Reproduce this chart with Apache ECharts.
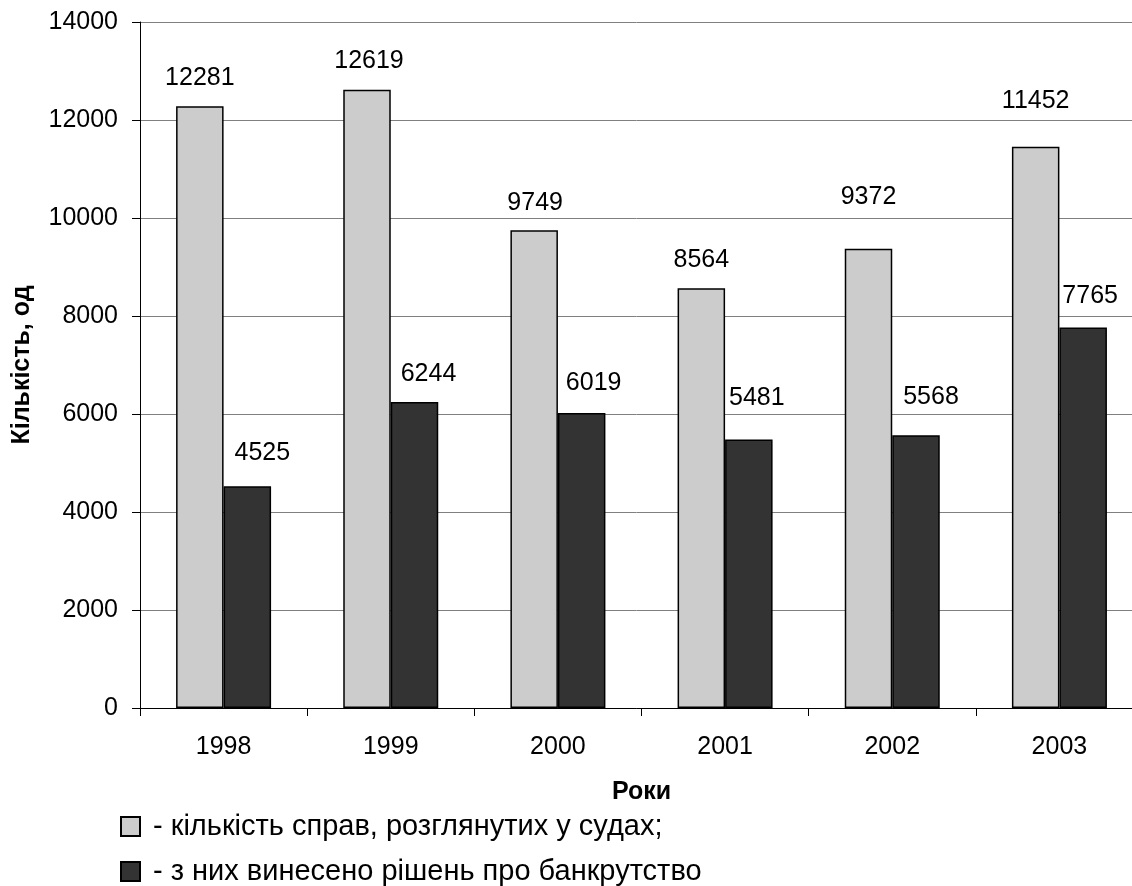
<!DOCTYPE html>
<html>
<head>
<meta charset="utf-8">
<script src="https://cdn.jsdelivr.net/npm/echarts@6/dist/echarts.min.js"></script>
<style>
html,body{margin:0;padding:0;background:#fff;}
#chart{width:1132px;height:886px;}
</style>
</head>
<body>
<div id="chart"></div>
<script>
// Data
const years = ['1998', '1999', '2000', '2001', '2002', '2003'];
const casesConsidered = [12281, 12619, 9749, 8564, 9372, 11452];
const bankruptcyDecisions = [4525, 6244, 6019, 5481, 5568, 7765];
const seriesNames = ['- кількість справ, розглянутих у судах;', '- з них винесено рішень про банкрутство'];
const yTitle = 'Кількість, од';
const xTitle = 'Роки';

// Label placement tweaks (style, not data)
const lightLabelOffsets = [[0, -16], [2, -16], [1, -15], [0, -16], [0, -39], [0, -33]];
const darkLabelOffsets = [[15, -21], [14, -15], [12, -17], [8, -29], [15, -26], [7, -19]];

const FONT = 'Liberation Sans, Arial, sans-serif';
const chart = echarts.init(document.getElementById('chart'), null, {renderer: 'canvas'});

function mk(values, offsets) {
  return values.map((v, i) => ({value: v, label: {offset: offsets[i]}}));
}

const labelBase = {
  show: true, position: 'top', distance: 0,
  fontFamily: FONT, fontSize: 25, color: '#000'
};

const legendBase = {
  orient: 'horizontal',
  left: 120, padding: 0,
  itemWidth: 19, itemHeight: 19,
  icon: 'rect',
  textStyle: {fontFamily: FONT, fontSize: 29, color: '#000', padding: [0, 0, 0, 8]}
};

chart.setOption({
  animation: false,
  backgroundColor: '#fff',
  textStyle: {fontFamily: FONT},
  grid: {left: 140, top: 22, width: 1003, height: 686, containLabel: false, outerBoundsMode: 'none'},
  xAxis: {
    type: 'category',
    data: years,
    boundaryGap: true,
    name: xTitle,
    nameLocation: 'middle',
    nameGap: 72,
    nameTextStyle: {fontFamily: FONT, fontSize: 25, fontWeight: 'bold', color: '#000'},
    axisLine: {show: true, lineStyle: {color: '#000', width: 1}},
    axisTick: {show: true, length: 8, inside: false, lineStyle: {color: '#000'}},
    axisLabel: {fontFamily: FONT, fontSize: 25, color: '#000', margin: 27},
    splitLine: {show: false}
  },
  yAxis: {
    type: 'value',
    min: 0, max: 14000, interval: 2000,
    name: yTitle,
    nameLocation: 'middle',
    nameGap: 105,
    nameRotate: 90,
    nameTextStyle: {fontFamily: FONT, fontSize: 25, fontWeight: 'bold', color: '#000'},
    axisLine: {show: true, lineStyle: {color: '#000', width: 1}},
    axisTick: {show: true, length: 8, inside: false, lineStyle: {color: '#000'}},
    axisLabel: {fontFamily: FONT, fontSize: 25, color: '#000', margin: 22, formatter: v => String(v)},
    splitLine: {show: true, lineStyle: {color: '#808080', width: 1}}
  },
  legend: [
    Object.assign({}, legendBase, {top: 812, data: [seriesNames[0]]}),
    Object.assign({}, legendBase, {top: 857, data: [seriesNames[1]]})
  ],
  series: [
    {
      name: seriesNames[0], type: 'bar',
      data: mk(casesConsidered, lightLabelOffsets),
      barWidth: 47.5, barGap: '0%',
      itemStyle: {color: '#cccccc', borderColor: '#000', borderWidth: 1.5},
      label: labelBase
    },
    {
      name: seriesNames[1], type: 'bar',
      data: mk(bankruptcyDecisions, darkLabelOffsets),
      barWidth: 47.5, barGap: '0%',
      itemStyle: {color: '#333333', borderColor: '#000', borderWidth: 1.5},
      label: labelBase
    }
  ]
});
</script>
</body>
</html>
